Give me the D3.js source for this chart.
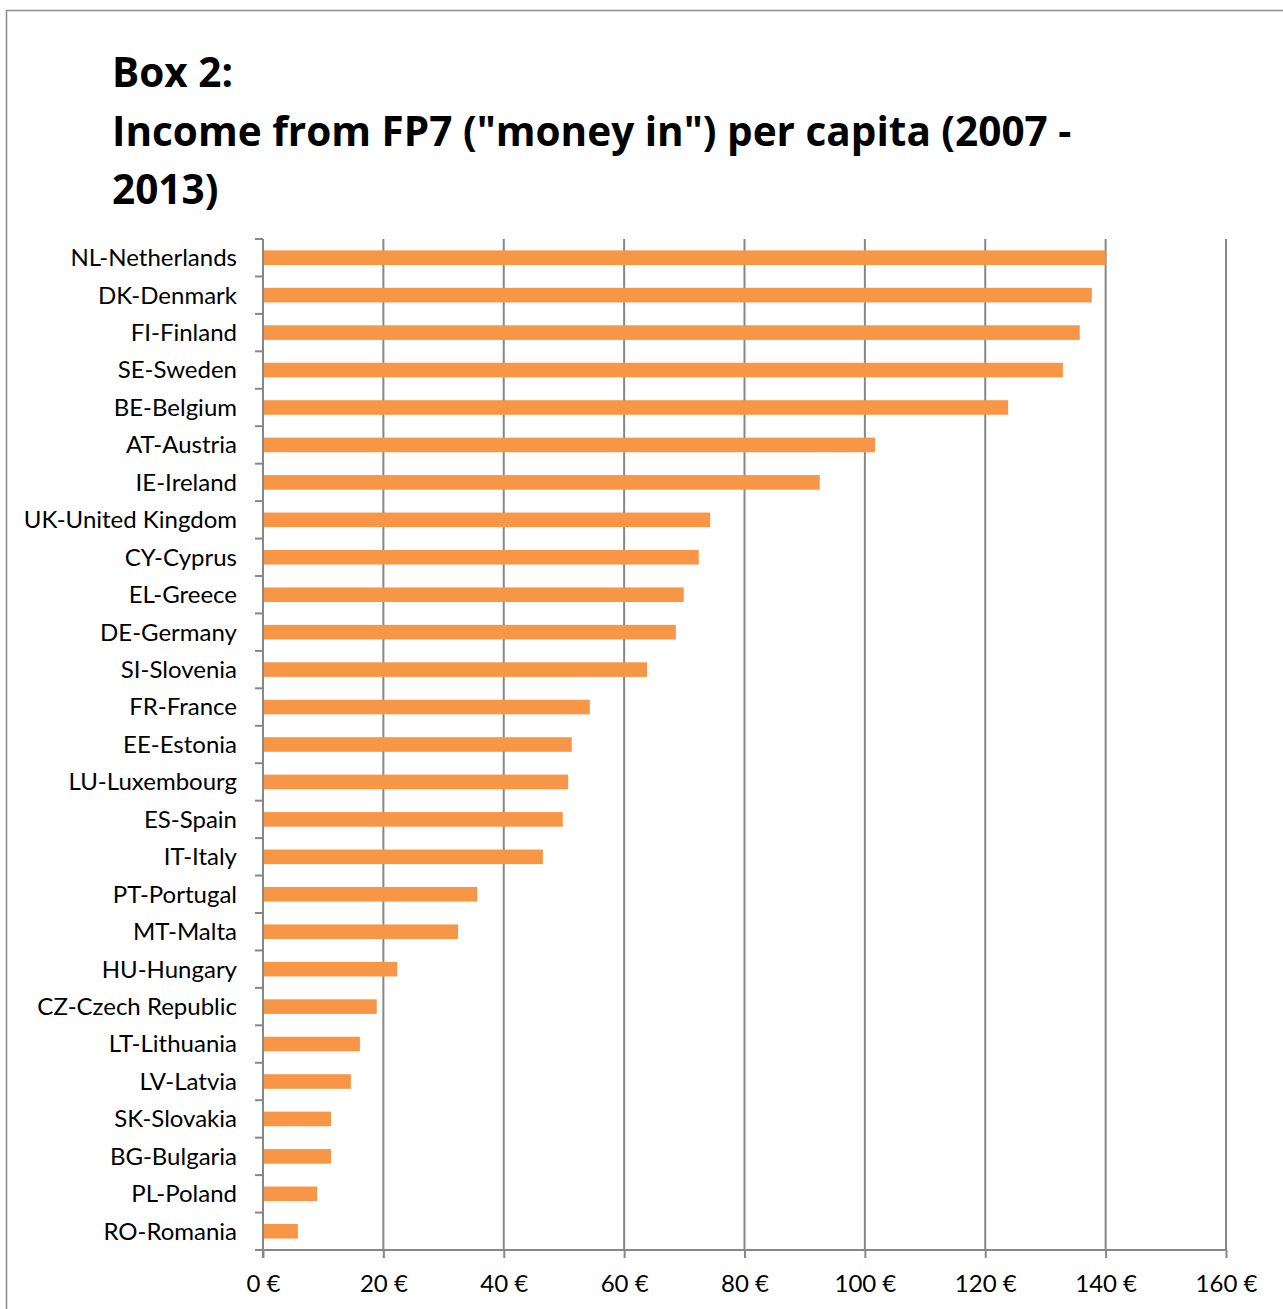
<!DOCTYPE html>
<html><head><meta charset="utf-8">
<script src="https://cdn.jsdelivr.net/npm/d3@7"></script>
<style>body{margin:0;background:#fff;} svg{display:block;}</style>
</head><body>
<script>
const countries = ["NL-Netherlands","DK-Denmark","FI-Finland","SE-Sweden","BE-Belgium","AT-Austria","IE-Ireland","UK-United Kingdom","CY-Cyprus","EL-Greece","DE-Germany","SI-Slovenia","FR-France","EE-Estonia","LU-Luxembourg","ES-Spain","IT-Italy","PT-Portugal","MT-Malta","HU-Hungary","CZ-Czech Republic","LT-Lithuania","LV-Latvia","SK-Slovakia","BG-Bulgaria","PL-Poland","RO-Romania"];
const incomePerCapita = [140.0,137.7,135.7,132.9,123.8,101.7,92.5,74.3,72.4,69.9,68.6,63.8,54.3,51.3,50.7,49.8,46.5,35.6,32.4,22.3,18.9,16.1,14.6,11.3,11.3,9.0,5.8];
const xTicks = [0,20,40,60,80,100,120,140,160];
const titleLines = ["Box 2:","Income from FP7 (\"money in\") per capita (2007 -","2013)"];

(function(){
const W = 1283, H = 1309;
const svg = d3.select("body").append("svg").attr("width", W).attr("height", H);
const titleFont = "'Open Sans', Lato, sans-serif";
const font = "Lato, 'Open Sans', sans-serif";

svg.append("rect").attr("x",6.5).attr("y",10.5).attr("width",W+10).attr("height",H+10)
  .attr("fill","none").attr("stroke","#8c8c8c").attr("stroke-width",1.5);

svg.append("g").selectAll("text").data(titleLines).join("text")
  .attr("x",112).attr("y",(d,i)=>87+i*58.5)
  .attr("font-family",titleFont).attr("font-weight","bold").attr("font-size",40.5)
  .attr("fill","#000").text(d=>d);

const pLeft = 263, pRight = 1226, pTop = 239, pBottom = 1250;
const x = d3.scaleLinear().domain([0,160]).range([pLeft,pRight]);
const y = d3.scaleBand().domain(countries).range([pTop,pBottom]).paddingInner(0.61).paddingOuter(0.305);

const grid = "#878787";
svg.append("g").selectAll("line").data(xTicks.slice(1)).join("line")
  .attr("x1",d=>x(d)).attr("x2",d=>x(d)).attr("y1",pTop).attr("y2",pBottom)
  .attr("stroke",grid).attr("stroke-width",2);

svg.append("g").selectAll("rect").data(countries).join("rect")
  .attr("x",x(0)).attr("y",d=>y(d)).attr("height",y.bandwidth())
  .attr("width",(d,i)=>x(incomePerCapita[i])-x(0))
  .attr("fill","#F79646");

const xAxis = svg.append("g").attr("transform",`translate(0,${pBottom})`)
  .call(d3.axisBottom(x).tickValues(xTicks).tickFormat(d=>d+" €").tickSize(8).tickPadding(17));
xAxis.select(".domain").attr("stroke",grid).attr("stroke-width",2).attr("d",`M${pLeft},0H${pRight}`);
xAxis.selectAll(".tick line").attr("stroke",grid).attr("stroke-width",2);
xAxis.selectAll("text").attr("font-family",font).attr("font-size",24).attr("fill","#000");

const boundaries = d3.range(countries.length+1).map(i=>pTop+i*(pBottom-pTop)/countries.length);
svg.append("line").attr("x1",pLeft).attr("x2",pLeft).attr("y1",pTop).attr("y2",pBottom+8)
  .attr("stroke",grid).attr("stroke-width",2);
svg.append("g").selectAll("line").data(boundaries).join("line")
  .attr("x1",pLeft-8).attr("x2",pLeft).attr("y1",d=>d).attr("y2",d=>d)
  .attr("stroke",grid).attr("stroke-width",2);
svg.append("g").selectAll("text").data(countries).join("text")
  .attr("x",237).attr("y",d=>y(d)+y.bandwidth()/2).attr("dy","0.35em")
  .attr("text-anchor","end").attr("font-family",font).attr("font-size",24).attr("fill","#000")
  .text(d=>d);
})();
</script>
</body></html>
